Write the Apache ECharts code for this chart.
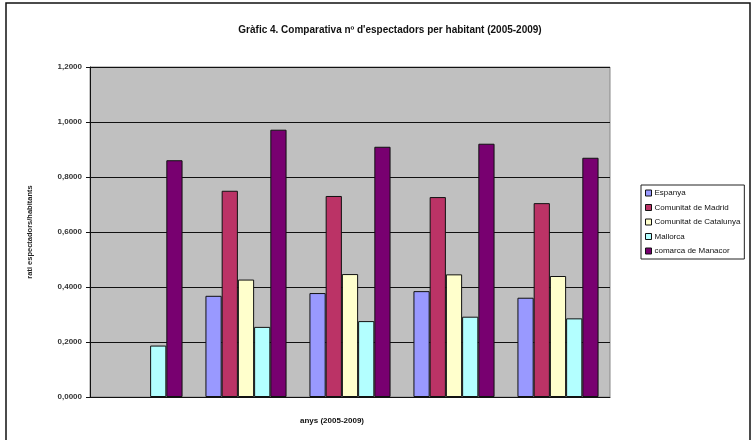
<!DOCTYPE html>
<html>
<head>
<meta charset="utf-8">
<script src="https://cdn.jsdelivr.net/npm/echarts@6/dist/echarts.min.js"></script>
<style>html,body{margin:0;padding:0;background:#fff}#c{width:754px;height:440px}</style>
</head>
<body>
<div id="c"></div>
<script>
const categories = ['2005', '2006', '2007', '2008', '2009'];
const seriesNames = ['Espanya', 'Comunitat de Madrid', 'Comunitat de Catalunya', 'Mallorca', 'comarca de Manacor'];
const espanya = [null, 0.368, 0.378, 0.385, 0.361];
const madrid = [null, 0.750, 0.731, 0.727, 0.705];
const catalunya = [null, 0.427, 0.447, 0.446, 0.440];
const mallorca = [0.187, 0.255, 0.276, 0.292, 0.286];
const manacor = [0.861, 0.972, 0.910, 0.921, 0.870];
const yTicks = [0, 0.2, 0.4, 0.6, 0.8, 1.0, 1.2];

const colors = ['#9999FF', '#BB3366', '#FFFFCC', '#B3FFFF', '#780070'];
const dataSets = [espanya, madrid, catalunya, mallorca, manacor];

const chart = echarts.init(document.getElementById('c'));
chart.setOption({
  animation: false,
  backgroundColor: '#fff',
  title: {
    text: "Gràfic 4. Comparativa nº d'espectadors per habitant (2005-2009)",
    left: 385, top: 20, textAlign: 'center',
    textStyle: {fontFamily: 'Liberation Sans', fontSize: 10, fontWeight: 'bold', color: '#111'}
  },
  graphic: [{
    type: 'rect', shape: {x: 6, y: 3, width: 744, height: 450},
    style: {fill: 'none', stroke: '#111', lineWidth: 1.5}, silent: true
  }],
  legend: {
    orient: 'vertical', left: 641, top: 185,
    data: seriesNames,
    itemWidth: 6, itemHeight: 6, itemGap: 6.5,
    padding: [4, 4, 4, 4],
    borderColor: '#222', borderWidth: 1,
    icon: 'rect',
    textStyle: {fontSize: 8, color: '#111', fontFamily: 'Liberation Sans', padding: [0,0,0,-2]},
    itemStyle: {borderColor: '#111', borderWidth: 1}
  },
  grid: {
    left: 90, right: 144, top: 67, bottom: 43,
    show: true, backgroundColor: '#C0C0C0', borderColor: '#888', borderWidth: 1
  },
  xAxis: {
    type: 'category', data: categories,
    name: 'anys (2005-2009)', nameLocation: 'middle', nameGap: 20,
    nameTextStyle: {fontSize: 8, fontWeight: 'bold', color: '#111', fontFamily: 'Liberation Sans', padding: [0, 36, 0, 0]},
    axisLine: {lineStyle: {color: '#111', width: 1}},
    axisTick: {show: false},
    axisLabel: {show: false}
  },
  yAxis: {
    type: 'value', min: 0, max: 1.2, interval: 0.2,
    name: 'rati espectadors/habitants', nameLocation: 'middle', nameGap: 56, nameRotate: 90,
    nameTextStyle: {fontSize: 7.5, fontWeight: 'bold', color: '#222', fontFamily: 'Liberation Sans'},
    axisLine: {show: true, lineStyle: {color: '#111'}},
    axisTick: {show: true, length: 4, lineStyle: {color: '#111'}},
    axisLabel: {fontSize: 8, color: '#333', fontWeight: 'bold', fontFamily: 'Liberation Sans', margin: 8,
      formatter: v => v.toFixed(4).replace('.', ',')},
    splitLine: {lineStyle: {color: '#111', width: 1}}
  },
  series: seriesNames.map((n, i) => ({
    name: n, type: 'bar', data: dataSets[i],
    barGap: '0%', barCategoryGap: '22%',
    itemStyle: {color: colors[i], borderColor: '#111', borderWidth: 1}
  }))
});
</script>
</body>
</html>
